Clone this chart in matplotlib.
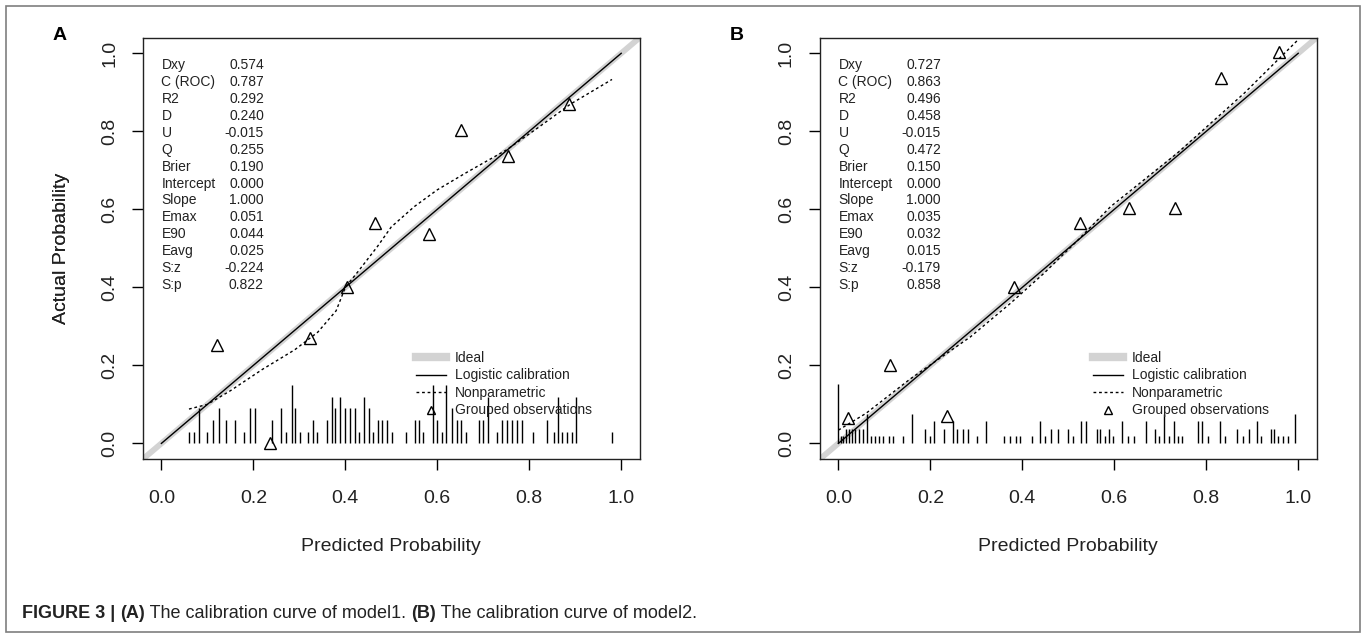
import matplotlib.pyplot as plt
from matplotlib.lines import Line2D
from matplotlib.patches import Rectangle

plt.rcParams['font.family'] = ['Liberation Sans', 'DejaVu Sans']

# statistics printed in the top-left corner
stat_names = ['Dxy', 'C (ROC)', 'R2', 'D', 'U', 'Q', 'Brier', 'Intercept',
              'Slope', 'Emax', 'E90', 'Eavg', 'S:z', 'S:p']
stats_a = ['0.574', '0.787', '0.292', '0.240', '-0.015', '0.255', '0.190',
           '0.000', '1.000', '0.051', '0.044', '0.025', '-0.224', '0.822']
stats_b = ['0.727', '0.863', '0.496', '0.458', '-0.015', '0.472', '0.150',
           '0.000', '1.000', '0.035', '0.032', '0.015', '-0.179', '0.858']

# logistic calibration (intercept 0, slope 1)
logit_x = [0.0, 1.0]
logit_y = [0.0, 1.0]

# nonparametric (loess) curves
np_x_a = [0.06, 0.10, 0.15, 0.22, 0.29, 0.34, 0.38, 0.40, 0.43, 0.47, 0.50,
          0.55, 0.60, 0.66, 0.75, 0.82, 0.89, 0.98]
np_y_a = [0.088, 0.10, 0.135, 0.19, 0.24, 0.285, 0.34, 0.40, 0.444, 0.505,
          0.555, 0.607, 0.65, 0.692, 0.752, 0.81, 0.87, 0.933]
np_x_b = [0.0, 0.06, 0.156, 0.287, 0.374, 0.447, 0.52, 0.592, 0.737, 0.882, 1.0]
np_y_b = [0.034, 0.077, 0.165, 0.273, 0.359, 0.436, 0.52, 0.607, 0.744, 0.897, 1.035]

# grouped observations
grp_x_a = [0.122, 0.236, 0.323, 0.403, 0.465, 0.582, 0.652, 0.754, 0.887]
grp_y_a = [0.252, 0.0, 0.27, 0.402, 0.566, 0.537, 0.804, 0.737, 0.87]
grp_x_b = [0.021, 0.112, 0.237, 0.381, 0.526, 0.631, 0.733, 0.833, 0.959]
grp_y_b = [0.064, 0.202, 0.07, 0.402, 0.565, 0.603, 0.603, 0.936, 1.003]

# distribution of predicted risk (spike histogram)
spike_x_a = [0.061, 0.070, 0.081, 0.099, 0.112, 0.126, 0.141, 0.161, 0.179, 0.192,
             0.203, 0.240, 0.261, 0.272, 0.283, 0.290, 0.301, 0.319, 0.330, 0.339,
             0.361, 0.370, 0.378, 0.389, 0.399, 0.410, 0.420, 0.430, 0.441, 0.451,
             0.460, 0.471, 0.480, 0.490, 0.502, 0.532, 0.551, 0.561, 0.569, 0.590,
             0.600, 0.611, 0.620, 0.631, 0.642, 0.651, 0.662, 0.691, 0.700, 0.711,
             0.729, 0.740, 0.751, 0.762, 0.773, 0.784, 0.809, 0.838, 0.853, 0.862,
             0.871, 0.882, 0.893, 0.901, 0.980]
spike_n_a = [1, 1, 3, 1, 2, 3, 2, 2, 1, 3,
             3, 2, 3, 1, 5, 3, 1, 1, 2, 1,
             2, 4, 3, 4, 3, 3, 3, 1, 4, 3,
             1, 2, 2, 2, 1, 1, 2, 2, 1, 5,
             2, 1, 5, 3, 2, 2, 1, 2, 2, 4,
             1, 2, 2, 2, 2, 2, 1, 2, 1, 4,
             1, 1, 1, 4, 1]
spike_x_b = [0.0, 0.005, 0.010, 0.017, 0.023, 0.029, 0.036, 0.045, 0.053, 0.0625,
             0.070, 0.080, 0.089, 0.098, 0.110, 0.119, 0.140, 0.159, 0.189, 0.200,
             0.209, 0.229, 0.249, 0.258, 0.271, 0.282, 0.301, 0.320, 0.360, 0.373,
             0.386, 0.394, 0.420, 0.439, 0.450, 0.462, 0.478, 0.500, 0.511, 0.528,
             0.538, 0.562, 0.570, 0.580, 0.589, 0.598, 0.617, 0.629, 0.642, 0.670,
             0.689, 0.697, 0.708, 0.718, 0.729, 0.739, 0.748, 0.782, 0.790, 0.803,
             0.831, 0.841, 0.867, 0.879, 0.893, 0.910, 0.920, 0.941, 0.948, 0.956,
             0.967, 0.978, 0.992]
spike_n_b = [8, 1, 1, 2, 2, 2, 2, 2, 2, 4,
             1, 1, 1, 1, 1, 1, 1, 4, 2, 1,
             3, 2, 3, 2, 2, 2, 1, 3, 1, 1,
             1, 1, 1, 3, 1, 2, 2, 2, 1, 3,
             3, 2, 2, 1, 2, 1, 3, 1, 1, 3,
             2, 1, 4, 1, 3, 1, 1, 3, 3, 1,
             3, 1, 2, 1, 2, 3, 1, 2, 2, 1,
             1, 1, 4]
spike_unit_a = 0.03
spike_unit_b = 0.019

W, H = 1362, 635
fig = plt.figure(figsize=(W / 100, H / 100), dpi=100)

GRAY = '#d3d3d3'
INK = '#222222'
AX_W, AX_H = 496.6, 421.3


def panel(left, letter, stats, np_x, np_y, gx, gy, sx, sn, unit):
    ax = fig.add_axes([left / W, 1 - 459 / H, AX_W / W, AX_H / H])
    ax.set_xlim(-0.04, 1.04)
    ax.set_ylim(-0.04, 1.04)
    ax.axline((0, 0), slope=1, color=GRAY, lw=4.2, solid_capstyle='butt', zorder=1)
    ax.plot(logit_x, logit_y, color='black', lw=1.0, zorder=2)
    ax.plot(np_x, np_y, color='black', lw=1.0, ls=(0, (2, 2)), zorder=2)
    ax.plot(gx, gy, ls='none', marker='^', ms=9, mfc='none', mec='black',
            mew=1.0, zorder=3)
    ax.vlines(sx, 0, [n * unit for n in sn], color='black', lw=1.0, zorder=2)

    ticks = [0.0, 0.2, 0.4, 0.6, 0.8, 1.0]
    ax.set_xticks(ticks)
    ax.set_yticks(ticks)
    ax.set_xticklabels(['%.1f' % t for t in ticks], fontsize=14, color=INK)
    ax.set_yticklabels(['%.1f' % t for t in ticks], fontsize=14, color=INK,
                       rotation=90, va='center')
    ax.tick_params(axis='x', length=8, width=1, pad=14)
    ax.tick_params(axis='y', length=8, width=1, pad=10)
    for sp in ax.spines.values():
        sp.set_linewidth(1.0)
        sp.set_color(INK)

    ax.set_xlabel('Predicted Probability', fontsize=14, color=INK)
    ax.set_ylabel('Actual Probability', fontsize=14, color=INK)
    ax.xaxis.label.set_va('center')
    ax.yaxis.label.set_va('center')
    ax.xaxis.set_label_coords(0.5, (459 - 546.7) / AX_H)
    ax.yaxis.set_label_coords((61 - left) / AX_W, 0.5)

    # statistics block
    for i, (name, val) in enumerate(zip(stat_names, stats)):
        yy = 0.97 - i * 0.0434
        ax.text(0.0, yy, name, fontsize=10, va='center', ha='left', color=INK)
        ax.text(0.223, yy, val, fontsize=10, va='center', ha='right', color=INK)

    handles = [
        Line2D([], [], color=GRAY, lw=6),
        Line2D([], [], color='black', lw=1.0),
        Line2D([], [], color='black', lw=1.0, ls=(0, (2, 2))),
        Line2D([], [], ls='none', marker='^', ms=6, mfc='none', mec='black', mew=1.0),
    ]
    labels = ['Ideal', 'Logistic calibration', 'Nonparametric', 'Grouped observations']
    leg = ax.legend(handles, labels, loc='upper left',
                    bbox_to_anchor=(0.549, (459 - 351) / AX_H),
                    frameon=False, fontsize=10, handlelength=2.2, handletextpad=0.6,
                    labelspacing=0.25, borderaxespad=0, borderpad=0)
    for t in leg.get_texts():
        t.set_color(INK)

    fig.text((left - 83) / W, 1 - 36 / H, letter, fontsize=14, fontweight='bold',
             ha='center', va='center')
    return ax


panel(143, 'A', stats_a, np_x_a, np_y_a, grp_x_a, grp_y_a, spike_x_a, spike_n_a, spike_unit_a)
panel(820, 'B', stats_b, np_x_b, np_y_b, grp_x_b, grp_y_b, spike_x_b, spike_n_b, spike_unit_b)

# frame around the whole figure
fig.add_artist(Rectangle((6 / W, 3 / H), 1354 / W, 626 / H, transform=fig.transFigure,
                         fill=False, edgecolor='#7f7f7f', lw=1.2))

# caption with bold parts
fig.canvas.draw()
renderer = fig.canvas.get_renderer()
caption = [('FIGURE 3 | ', True), ('(A)', True), (' The calibration curve of model1. ', False),
           ('(B)', True), (' The calibration curve of model2.', False)]
x = 22
for s, bold in caption:
    t = fig.text(x / W, 1 - 614 / H, s, fontsize=13, fontweight='bold' if bold else 'normal',
                 ha='left', va='center', color=INK)
    bb = t.get_window_extent(renderer)
    x = bb.x1

fig.savefig('out.png', dpi=100)
